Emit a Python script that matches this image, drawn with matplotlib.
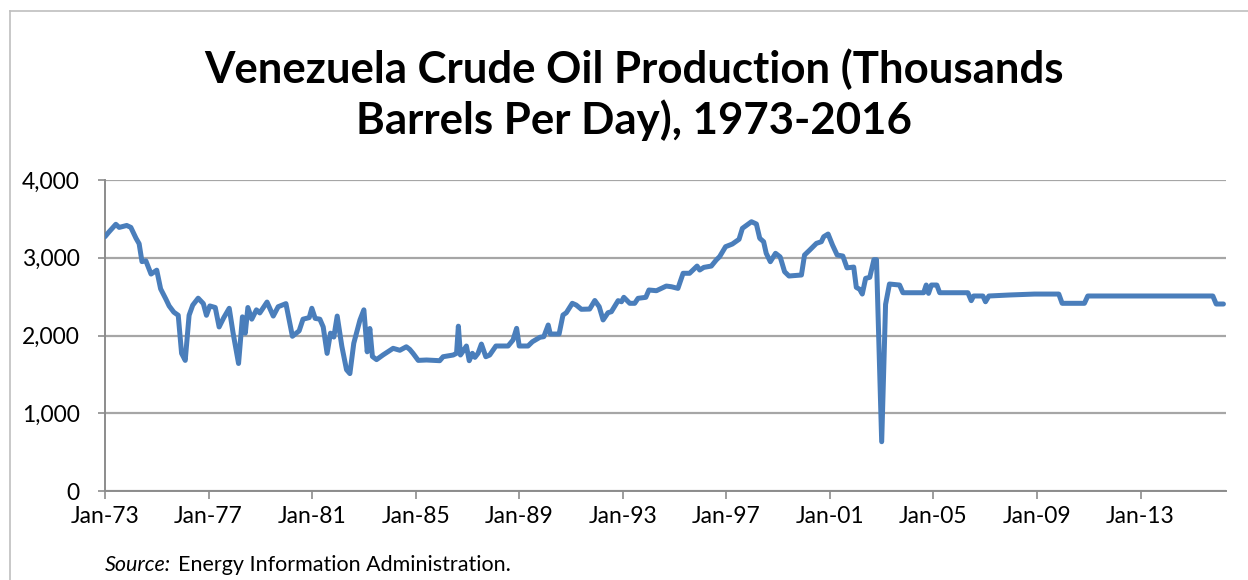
import matplotlib
matplotlib.use("Agg")
import matplotlib.pyplot as plt
from matplotlib.lines import Line2D

# Venezuela crude oil production, thousand barrels/day
years = [1973.00, 1973.15, 1973.42, 1973.55, 1973.84, 1974.00, 1974.20, 1974.32,
         1974.43, 1974.58, 1974.78, 1975.00, 1975.15, 1975.35, 1975.48, 1975.66,
         1975.83, 1975.96, 1976.10, 1976.25, 1976.39, 1976.60, 1976.80, 1976.92,
         1977.05, 1977.26, 1977.41, 1977.59, 1977.80, 1977.95, 1978.16, 1978.31,
         1978.42, 1978.52, 1978.67, 1978.85, 1978.98, 1979.26, 1979.50, 1979.69,
         1979.99, 1980.24, 1980.50, 1980.65, 1980.89, 1980.99, 1981.12, 1981.30,
         1981.43, 1981.58, 1981.71, 1981.84, 1981.97, 1982.15, 1982.33, 1982.46,
         1982.61, 1982.85, 1983.00, 1983.13, 1983.23, 1983.33, 1983.49, 1983.74,
         1984.13, 1984.39, 1984.64, 1984.77, 1984.90, 1985.10, 1985.42, 1985.93,
         1986.06, 1986.45, 1986.58, 1986.65, 1986.73, 1986.86, 1986.96, 1987.07,
         1987.19, 1987.29, 1987.41, 1987.54, 1987.71, 1987.86, 1988.10, 1988.57,
         1988.76, 1988.90, 1989.00, 1989.34, 1989.51, 1989.80, 1989.95, 1990.12,
         1990.20, 1990.54, 1990.69, 1990.82, 1991.05, 1991.20, 1991.40, 1991.72,
         1991.92, 1992.09, 1992.24, 1992.43, 1992.56, 1992.82, 1992.95, 1993.04,
         1993.27, 1993.46, 1993.59, 1993.89, 1994.01, 1994.30, 1994.49, 1994.68,
         1994.88, 1995.13, 1995.33, 1995.58, 1995.78, 1995.87, 1995.97, 1996.13,
         1996.42, 1996.61, 1996.74, 1996.97, 1997.23, 1997.49, 1997.62, 1997.80,
         1997.97, 1998.16, 1998.29, 1998.44, 1998.54, 1998.70, 1998.90, 1999.08,
         1999.25, 1999.42, 1999.90, 2000.02, 2000.22, 2000.48, 2000.67, 2000.76,
         2000.93, 2001.10, 2001.28, 2001.50, 2001.66, 2001.92, 2002.02, 2002.15,
         2002.25, 2002.38, 2002.54, 2002.70, 2002.80, 2003.00, 2003.15, 2003.30,
         2003.69, 2003.82, 2004.62, 2004.72, 2004.81, 2004.92, 2005.13, 2005.24,
         2006.33, 2006.46, 2006.55, 2006.91, 2007.01, 2007.14, 2007.94, 2008.90,
         2009.84, 2009.97, 2010.83, 2010.96, 2015.79, 2015.92, 2016.20]
kbd = [3270, 3330, 3430, 3390, 3415, 3390, 3250, 3180,
       2950, 2960, 2790, 2840, 2600, 2470, 2380, 2300,
       2260, 1770, 1680, 2260, 2390, 2480, 2410, 2260,
       2380, 2360, 2110, 2230, 2350, 2030, 1640, 2240,
       2030, 2360, 2210, 2330, 2290, 2430, 2250, 2370,
       2410, 1990, 2060, 2210, 2230, 2350, 2220, 2210,
       2110, 1770, 2030, 1980, 2250, 1860, 1560, 1510,
       1900, 2200, 2330, 1790, 2090, 1730, 1690, 1750,
       1835, 1810, 1855, 1822, 1770, 1680, 1685, 1676,
       1727, 1749, 1771, 2120, 1749, 1813, 1865, 1676,
       1771, 1719, 1771, 1890, 1727, 1749, 1865, 1865,
       1942, 2092, 1865, 1865, 1920, 1977, 1985, 2135,
       2019, 2019, 2263, 2293, 2414, 2392, 2337, 2340,
       2450, 2370, 2200, 2293, 2306, 2448, 2434, 2491,
       2414, 2414, 2478, 2491, 2585, 2576, 2606, 2636,
       2627, 2606, 2800, 2800, 2864, 2893, 2842, 2876,
       2893, 2971, 3014, 3142, 3176, 3237, 3378, 3421,
       3463, 3434, 3250, 3206, 3057, 2949, 3057, 3010,
       2820, 2765, 2778, 3035, 3099, 3185, 3206, 3270,
       3305, 3164, 3035, 3022, 2870, 2880, 2619, 2594,
       2533, 2735, 2748, 2975, 2975, 634, 2400, 2662,
       2649, 2550, 2550, 2649, 2542, 2649, 2649, 2550,
       2550, 2448, 2508, 2508, 2434, 2508, 2521, 2533,
       2533, 2414, 2414, 2508, 2508, 2405, 2405]

tick_years = list(range(1973, 2014, 4))
tick_labels = ["Jan-%02d" % (y % 100) for y in tick_years]
y_ticks = [0, 1000, 2000, 3000, 4000]

plt.rcParams['font.family'] = ['Lato', 'DejaVu Sans']

fig = plt.figure(figsize=(12.48, 5.8), dpi=100)
ax = fig.add_axes([0.0841, 0.1534, 0.8983, 0.5363])

ax.plot(years, kbd, color='#4A7EBB', lw=3.6, solid_joinstyle='round',
        solid_capstyle='round', zorder=3)

ax.set_xlim(1973.0, 2016.3)
ax.set_ylim(0, 4000)
ax.set_xticks(tick_years)
ax.set_xticklabels(tick_labels)
ax.set_yticks(y_ticks)
ax.set_yticklabels(["{:,}".format(v) for v in y_ticks])

ax.grid(axis='y', color='#A6A6A6', lw=1.6)
ax.set_axisbelow(True)
for s in ['top', 'right']:
    ax.spines[s].set_visible(False)
for s in ['left', 'bottom']:
    ax.spines[s].set_color('#8C8C8C')
    ax.spines[s].set_linewidth(1.4)
ax.tick_params(axis='x', length=6, width=1.2, color='#8C8C8C', labelsize=16.5, pad=5)
ax.tick_params(axis='y', length=5, width=1.2, color='#8C8C8C', labelsize=16.5, pad=13)

fig.text(0.508, 0.837, "Venezuela Crude Oil Production (Thousands\nBarrels Per Day), 1973-2016",
         ha='center', va='center', fontsize=31.5, fontweight='bold', linespacing=1.25)

src = fig.text(0.0841, 0.016, "Source:", style='italic', fontsize=15.5, ha='left', va='baseline')
fig.canvas.draw()
bb = src.get_window_extent()
fig.text((bb.x1 + 7) / fig.bbox.width, 0.016, "Energy Information Administration.",
         fontsize=15.5, ha='left', va='baseline')

# chart-area frame (left and top edges only)
fig.add_artist(Line2D([0.008, 0.008], [0.0, 0.981], color='#BFBFBF', lw=1.2))
fig.add_artist(Line2D([0.008, 1.0], [0.981, 0.981], color='#BFBFBF', lw=1.2))

fig.savefig('out.png', dpi=100)
